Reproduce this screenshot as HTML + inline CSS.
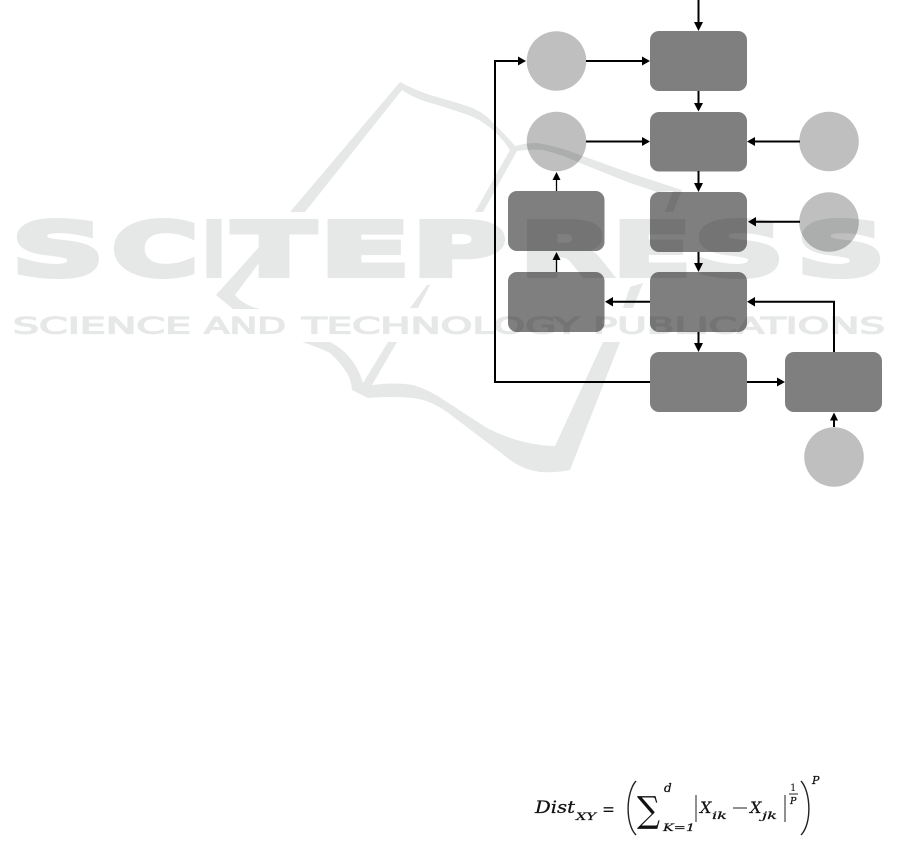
<!DOCTYPE html>
<html><head><meta charset="utf-8"><style>
html,body{margin:0;padding:0;background:#fff}
svg{display:block}
.b{fill:#7f7f7f}.c{fill:#bfbfbf}
.l{stroke:#000;stroke-width:2;fill:none}
.t{stroke:#000;stroke-width:1.3;fill:none}
.wt{font-family:"DejaVu Sans",sans-serif;font-weight:bold;fill:#e6e8e7;stroke:#e6e8e7;stroke-linejoin:miter}
.ws{font-family:"DejaVu Sans",sans-serif;font-weight:normal;fill:#e6e8e7;stroke:#e6e8e7;stroke-linejoin:miter}
.f{font-family:"DejaVu Serif",serif;font-style:italic;fill:#111;stroke:#111;stroke-width:.25}
.n{font-family:"DejaVu Serif",serif;fill:#111}
</style></head><body>
<svg width="901" height="853" viewBox="0 0 901 853" xmlns="http://www.w3.org/2000/svg" style="background:#fff">
<rect width="901" height="853" fill="#fff"/>
<!-- nodes -->
<rect class="b" x="650" y="31" width="97" height="60" rx="9"/>
<rect class="b" x="650" y="112" width="97" height="59.5" rx="9"/>
<rect class="b" x="650" y="192" width="97" height="60" rx="9"/>
<rect class="b" x="650" y="272" width="97" height="60" rx="9"/>
<rect class="b" x="650" y="352" width="97" height="60" rx="9"/>
<rect class="b" x="785" y="352" width="97" height="60" rx="9"/>
<rect class="b" x="508" y="191" width="96.5" height="60" rx="9"/>
<rect class="b" x="508" y="272" width="96.5" height="60" rx="9"/>
<circle class="c" cx="556.5" cy="61" r="29.8"/>
<circle class="c" cx="556.5" cy="141.5" r="29.8"/>
<circle class="c" cx="829" cy="141.5" r="29.8"/>
<circle class="c" cx="829" cy="222" r="29.8"/>
<circle class="c" cx="834" cy="457" r="29.8"/>
<!-- connectors -->
<path class="l" d="M698.5 0V23M698.5 91V104M698.5 171V184M698.5 252V264M698.5 332V344"/>
<path class="l" d="M586 61H643M586 141.5H643M800 141.5H754M800 221.7H755M650 301.7H612M834 352V301.7H754M834 427V419M747 382H778M650 382H495V61H519"/>
<path class="t" d="M556.5 191V179M556.5 272V259"/>
<g fill="#000">
<polygon points="694,22 703,22 698.5,31"/>
<polygon points="694,103 703,103 698.5,111.5"/>
<polygon points="694,183 703,183 698.5,192"/>
<polygon points="694,263 703,263 698.5,272"/>
<polygon points="694,343 703,343 698.5,352"/>
<polygon points="642,56.5 642,65.5 650,61"/>
<polygon points="642,137 642,146 650,141.5"/>
<polygon points="755,137 755,146 747,141.5"/>
<polygon points="756,217 756,226.5 748,221.7"/>
<polygon points="518,56.5 518,65.5 526,61"/>
<polygon points="552.5,180 560.5,180 556.5,172"/>
<polygon points="552.5,260 560.5,260 556.5,252"/>
<polygon points="613,297 613,306.5 605,301.7"/>
<polygon points="755,297 755,306.5 747,301.7"/>
<polygon points="777,377.5 777,386.5 785,382"/>
<polygon points="830,420.5 838,420.5 834,412.5"/>
</g>
<!-- formula -->
<text class="f" x="535" y="813" font-size="17" textLength="40" lengthAdjust="spacingAndGlyphs">Dist</text>
<text class="f" x="576" y="820" font-size="10" textLength="20" lengthAdjust="spacingAndGlyphs">XY</text>
<text class="n" x="602" y="815" font-size="17" textLength="13" lengthAdjust="spacingAndGlyphs">=</text>
<path d="M636 781C626 792 625 824 636 835" fill="none" stroke="#222" stroke-width="1.4"/>
<text x="637" y="822" font-size="36" font-family="DejaVu Serif,serif" fill="#111" textLength="23" lengthAdjust="spacingAndGlyphs">∑</text>
<text class="f" x="664" y="792" font-size="12">d</text>
<text class="f" x="663" y="831" font-size="10" textLength="32" lengthAdjust="spacingAndGlyphs">K=1</text>
<path d="M696 795V822M785 795V822" stroke="#222" stroke-width="1" fill="none"/>
<text class="f" x="700" y="813" font-size="16">X</text>
<text class="f" x="712" y="819" font-size="10" textLength="15" lengthAdjust="spacingAndGlyphs">ik</text>
<path d="M733 808H747" stroke="#222" stroke-width="1"/>
<text class="f" x="750" y="813" font-size="16">X</text>
<text class="f" x="762" y="819" font-size="10" textLength="15" lengthAdjust="spacingAndGlyphs">jk</text>
<text class="n" x="790" y="791" font-size="10">1</text>
<path d="M789 794H798" stroke="#222" stroke-width="1"/>
<text class="f" x="790" y="804" font-size="9.5">P</text>
<path d="M801 781C811 792 812 824 801 835" fill="none" stroke="#222" stroke-width="1.4"/>
<text class="f" x="812" y="784" font-size="11">P</text>
<!-- watermark -->
<g style="mix-blend-mode:multiply">
<g fill="#e6e8e7">
<path d="M290 212L400 82Q415 90 430 95Q455 102 470 107Q485 113 493 123Q505 134 515 146Q525 143 537 143Q558 146 580 155L630 173L682 190L673 212H665L673 191L657 192L630 183L580 163Q560 154 543 150Q530 149 517 151L483 212H475L510 150Q500 135 489 127Q478 118 465 114Q445 107 427 102Q412 97 402 90L305 212Z"/>
<path d="M259 247V263L235 295Q243 305 260 309H233L216 295Z"/>
<path d="M438 263H445L439 275Z"/>
<path d="M427 285H430L418 308H410Z"/>
<path d="M630 287L643 283L633 308H623Z"/>
<path d="M302 342H330Q355 355 363 383L388 342H397L372 385Q395 382 413 385Q430 390 447 402L487 428Q520 445 555 446L603 342H620L570 470Q555 473 540 472Q525 470 513 462L480 437L447 412Q430 400 413 398Q390 396 368 398L352 390Q351 380 347 373Q340 362 330 353Q318 347 302 342Z"/>
</g>
<g font-size="74" stroke-width="5">
<text class="wt" x="12" y="275.5" textLength="92" lengthAdjust="spacingAndGlyphs">S</text>
<text class="wt" x="112" y="275.5" textLength="86" lengthAdjust="spacingAndGlyphs">C</text>
<text class="wt" x="203" y="275.5" textLength="22" lengthAdjust="spacingAndGlyphs">I</text>
<text class="wt" x="233" y="275.5" textLength="82" lengthAdjust="spacingAndGlyphs">T</text>
<text class="wt" x="320" y="275.5" textLength="90" lengthAdjust="spacingAndGlyphs">E</text>
<text class="wt" x="412" y="275.5" textLength="94" lengthAdjust="spacingAndGlyphs">P</text>
<text class="wt" x="520" y="275.5" textLength="92" lengthAdjust="spacingAndGlyphs">R</text>
<text class="wt" x="613" y="275.5" textLength="78" lengthAdjust="spacingAndGlyphs">E</text>
<text class="wt" x="694" y="275.5" textLength="90" lengthAdjust="spacingAndGlyphs">S</text>
<text class="wt" x="797" y="275.5" textLength="88" lengthAdjust="spacingAndGlyphs">S</text>
</g>
<g font-size="22.5" stroke-width="1.2">
<text class="ws" x="13" y="333.5" textLength="178" lengthAdjust="spacingAndGlyphs">SCIENCE</text>
<text class="ws" x="204" y="333.5" textLength="82" lengthAdjust="spacingAndGlyphs">AND</text>
<text class="ws" x="302" y="333.5" textLength="277" lengthAdjust="spacingAndGlyphs">TECHNOLOGY</text>
<text class="ws" x="593" y="333.5" textLength="292" lengthAdjust="spacingAndGlyphs">PUBLICATIONS</text>
</g>
</g>
</svg>
</body></html>
